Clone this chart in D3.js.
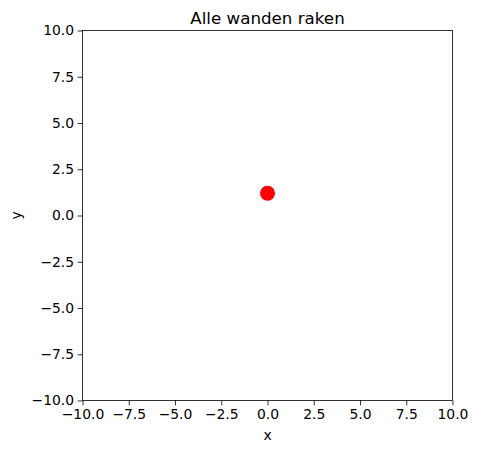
<!DOCTYPE html>
<html><head><meta charset="utf-8">
<script src="https://cdn.jsdelivr.net/npm/d3@7"></script>
<style>body{margin:0;background:#fff}text{font-family:"DejaVu Sans",sans-serif;fill:#000}</style>
</head><body><svg id="c" width="477" height="453"></svg>
<script>
const title = "Alle wanden raken";
const xLabel = "x";
const yLabel = "y";
const xDomain = [-10, 10];
const yDomain = [-10, 10];
const tickValues = [-10, -7.5, -5, -2.5, 0, 2.5, 5, 7.5, 10];
const pointsX = [0];
const pointsY = [1.2];

const svg = d3.select("#c");
const L = 82.5, R = 452.5, T = 30.5, B = 400.5;
const x = d3.scaleLinear().domain(xDomain).range([L, R]);
const y = d3.scaleLinear().domain(yDomain).range([B, T]);
const fmt = d => d.toFixed(1).replace("-", "\u2212");

const gx = svg.append("g").attr("transform", `translate(0,${B})`)
  .call(d3.axisBottom(x).tickValues(tickValues).tickFormat(fmt).tickSize(4.9).tickPadding(3.5));
const gy = svg.append("g").attr("transform", `translate(${L},0)`)
  .call(d3.axisLeft(y).tickValues(tickValues).tickFormat(fmt).tickSize(4.9).tickPadding(3.5));
[gx, gy].forEach(g => {
  g.select(".domain").remove();
  g.selectAll("line").attr("stroke", "#000").attr("stroke-width", 0.8);
  g.selectAll("text").attr("font-size", "13.9px").attr("font-family", "DejaVu Sans").attr("fill", "#000");
});

svg.append("rect").attr("x", L).attr("y", T).attr("width", R - L).attr("height", B - T)
  .attr("fill", "none").attr("stroke", "#000").attr("stroke-width", 0.8);

svg.selectAll("circle.pt").data(pointsX).enter().append("circle").attr("class", "pt")
  .attr("cx", d => x(d)).attr("cy", (d, i) => y(pointsY[i])).attr("r", 7.5).attr("fill", "red");

svg.append("text").attr("x", (L + R) / 2).attr("y", T - 7).attr("text-anchor", "middle")
  .attr("font-size", "16.7px").text(title);
svg.append("text").attr("x", (L + R) / 2).attr("y", 440).attr("text-anchor", "middle")
  .attr("font-size", "13.9px").text(xLabel);
svg.append("text").attr("transform", `translate(21,${(T + B) / 2}) rotate(-90)`).attr("text-anchor", "middle")
  .attr("font-size", "13.9px").text(yLabel);
</script></body></html>
